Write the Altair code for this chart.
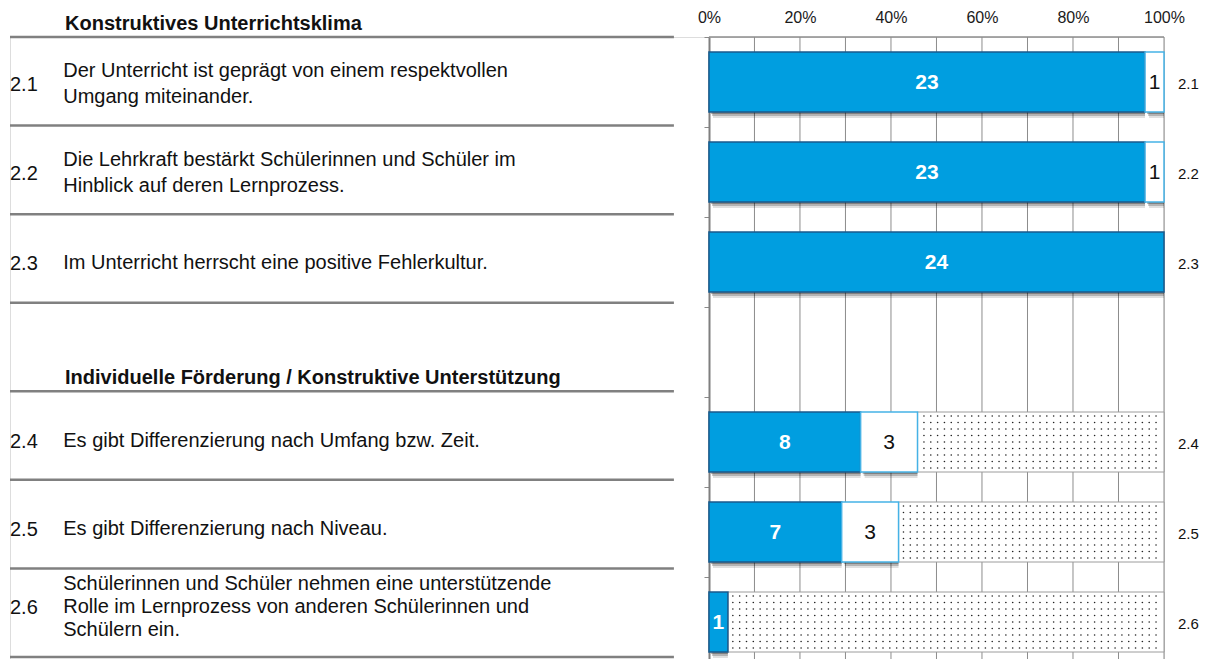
import altair as alt
import pandas as pd

# ---------------- data ----------------
items = ["2.1", "2.2", "2.3", "2.4", "2.5", "2.6"]
statements = [
    "Der Unterricht ist geprägt von einem respektvollen\nUmgang miteinander.",
    "Die Lehrkraft bestärkt Schülerinnen und Schüler im\nHinblick auf deren Lernprozess.",
    "Im Unterricht herrscht eine positive Fehlerkultur.",
    "Es gibt Differenzierung nach Umfang bzw. Zeit.",
    "Es gibt Differenzierung nach Niveau.",
    "Schülerinnen und Schüler nehmen eine unterstützende\nRolle im Lernprozess von anderen Schülerinnen und\nSchülern ein.",
]
blue_counts = [23, 23, 24, 8, 7, 1]
white_counts = [1, 1, 0, 3, 3, 0]
dotted_counts = [0, 0, 0, 13, 14, 23]
header_rows = ["hdr1", "hdr2"]
headers = ["Konstruktives Unterrichtsklima",
           "Individuelle Förderung / Konstruktive Unterstützung"]
axis_ticks = [0, 20, 40, 60, 80, 100]
grid_ticks = [10, 20, 30, 40, 50, 60, 70, 80, 90, 100]

rows_plot = ["2.1", "2.2", "2.3", "gap", "2.4", "2.5", "2.6"]
rows_left = ["hdr1", "2.1", "2.2", "2.3", "hdr2", "2.4", "2.5", "2.6"]

# ---------------- tables ----------------
seg_rows = []
for it, b, w, d in zip(items, blue_counts, white_counts, dotted_counts):
    total = b + w + d
    s = 0
    for seg, c in (("blue", b), ("white", w), ("dots", d)):
        if c > 0:
            seg_rows.append(dict(item=it, seg=seg, n=c,
                                 x0=s / total * 100, x1=(s + c) / total * 100))
        s += c
seg_df = pd.DataFrame(seg_rows)
seg_df["mid"] = (seg_df["x0"] + seg_df["x1"]) / 2

# dot texture for the dotted segments (pattern anchored on the % grid)
dot_rows = []
for r in seg_rows:
    if r["seg"] == "dots":
        j = 0
        while True:
            xv = 0.75 + 1.5 * j
            if xv >= r["x1"] - 0.5:
                break
            if xv > r["x0"] + 0.6:
                dot_rows.append(dict(item=r["item"], x=xv))
            j += 1
dot_df = pd.DataFrame(dot_rows)

# statements split into lines
line_rows = []
for it, st in zip(items, statements):
    parts = st.split("\n")
    for k, p in enumerate(parts):
        line_rows.append(dict(row=it, txt=p, k=k, nl=len(parts)))
lines_df = pd.DataFrame(line_rows)
num_df = pd.DataFrame({"row": items, "nl": [len(s.split("\n")) for s in statements]})

hdr_df = pd.DataFrame({"row": header_rows, "txt": headers})
sep_df = pd.DataFrame({"row": rows_left})
grid_df = pd.DataFrame({"v": grid_ticks})
frame_df = pd.DataFrame({"a": [0], "b": [100]})
right_df = pd.DataFrame({"row": items})

FONT = "Liberation Sans"
XMIN, XMAX = -153.6, 100
xscale = alt.Scale(domain=[XMIN, XMAX], nice=False, zero=False)
xax = alt.Axis(orient="top", values=axis_ticks, labelExpr="datum.value + '%'",
               title=None, grid=False, ticks=False, domain=False, labelFlush=False,
               labelPadding=12, labelFontSize=16, labelColor="#1a1a1a",
               labelFont=FONT)


def X(field):
    return alt.X(field, type="quantitative", scale=xscale, axis=xax)


def XD(v):
    return alt.X(datum=v, type="quantitative", scale=xscale, axis=xax)


# ---------------- left text group ----------------
yl_scale = alt.Scale(domain=rows_left, range=[-88.6, 620], paddingInner=0, paddingOuter=0)


def YL(**kw):
    return alt.Y("row:N", scale=yl_scale, axis=None, **kw)


seps = alt.Chart(sep_df).mark_rule(color="#808080", strokeWidth=2.5).encode(
    x=XD(XMIN), x2=alt.X2(datum=-7.7), y=YL(bandPosition=1))

# vertical layout of the text blocks by number of lines: (centre shift, line height)
block_style = {1: (5, 0), 2: (3, 26), 3: (-6, 23)}
left_layers = [seps]
for nl, (shift, lh) in block_style.items():
    left_layers.append(
        alt.Chart(num_df[num_df["nl"] == nl]).mark_text(
            align="left", baseline="middle", fontSize=20, font=FONT, color="#111",
            dy=shift + 1).encode(x=XD(XMIN), y=YL(), text="row:N"))
    for k in range(nl):
        sub = lines_df[(lines_df["nl"] == nl) & (lines_df["k"] == k)]
        left_layers.append(
            alt.Chart(sub).mark_text(
                align="left", baseline="middle", fontSize=20, font=FONT, color="#111",
                dy=shift + (k - (nl - 1) / 2) * lh).encode(x=XD(-141.9), y=YL(), text="txt:N"))

hdrs = alt.Chart(hdr_df).mark_text(align="left", baseline="alphabetic", fontSize=20,
                                    font=FONT, fontWeight="bold", color="#111",
                                    dy=-7).encode(
    x=XD(-141.5), y=YL(bandPosition=1), text="txt:N")
left_layers.append(hdrs)
left_group = alt.layer(*left_layers)

# ---------------- plot group ----------------
yp_scale = alt.Scale(domain=rows_plot, paddingInner=0, paddingOuter=0)
yax = alt.Axis(orient="left", offset=-699, labels=False, title=None, grid=False,
               domain=True, domainColor="#7f7f7f", domainWidth=2,
               ticks=True, tickSize=5, tickColor="#8a8a8a", bandPosition=0)


def YP():
    return alt.Y("item:N", scale=yp_scale, axis=yax)


grid = alt.Chart(grid_df).mark_rule(color="#8c8c8c", strokeWidth=1).encode(x=X("v"))
frame = alt.Chart(frame_df).mark_rule(color="#8c8c8c", strokeWidth=1.5).encode(
    x=X("a"), x2="b", y=alt.value(0))

solid = seg_df[seg_df["seg"] != "dots"]
shadows = [
    alt.Chart(solid).mark_bar(size=60, color="#000", opacity=op, xOffset=xo, yOffset=yo)
    .encode(x=X("x0"), x2="x1", y=YP())
    for xo, yo, op in ((2, 2, 0.28), (3, 4, 0.2), (4, 6, 0.12))
]
dotted_bars = alt.Chart(seg_df[seg_df["seg"] == "dots"]).mark_bar(
    size=60, fill="white", stroke="#9c9c9c", strokeWidth=1).encode(
    x=X("x0"), x2="x1", y=YP())
dot_layers = [
    alt.Chart(dot_df).mark_circle(size=2.6, color="#222", opacity=1, yOffset=off)
    .encode(x=X("x"), y=YP())
    for off in (-26, -19.5, -13, -6.5, 0, 6.5, 13, 19.5, 26)
]
blue_bars = alt.Chart(seg_df[seg_df["seg"] == "blue"]).mark_bar(
    size=60, fill="#009ee0", stroke="#1a5a8c", strokeWidth=1.5).encode(
    x=X("x0"), x2="x1", y=YP())
white_bars = alt.Chart(seg_df[seg_df["seg"] == "white"]).mark_bar(
    size=60, fill="white", stroke="#45b2e6", strokeWidth=1.5).encode(
    x=X("x0"), x2="x1", y=YP())
blue_lbl = alt.Chart(seg_df[seg_df["seg"] == "blue"]).mark_text(
    fontSize=21, fontWeight="bold", color="white", font=FONT, baseline="middle", dy=1).encode(
    x=X("mid"), y=YP(), text="n:Q")
white_lbl = alt.Chart(seg_df[seg_df["seg"] == "white"]).mark_text(
    fontSize=21, color="#111", font=FONT, baseline="middle", dy=1).encode(
    x=X("mid"), y=YP(), text="n:Q")
right_lbl = alt.Chart(right_df).mark_text(
    fontSize=15, color="#111", font=FONT, align="left", baseline="middle", dx=14, dy=2).encode(
    x=XD(100), y=alt.Y("row:N", scale=yp_scale, axis=yax), text="row:N")

plot_group = alt.layer(grid, frame, *shadows, dotted_bars, *dot_layers,
                       blue_bars, white_bars, blue_lbl, white_lbl, right_lbl)

chart = alt.layer(left_group, plot_group).resolve_scale(y="independent").properties(
    width=1154, height=630,
    padding={"left": 0, "top": 1, "right": 0, "bottom": 0},
).configure_view(stroke=None).configure(font=FONT, background="white")

chart.save("out.html", embed_options={"renderer": "svg", "actions": False})
